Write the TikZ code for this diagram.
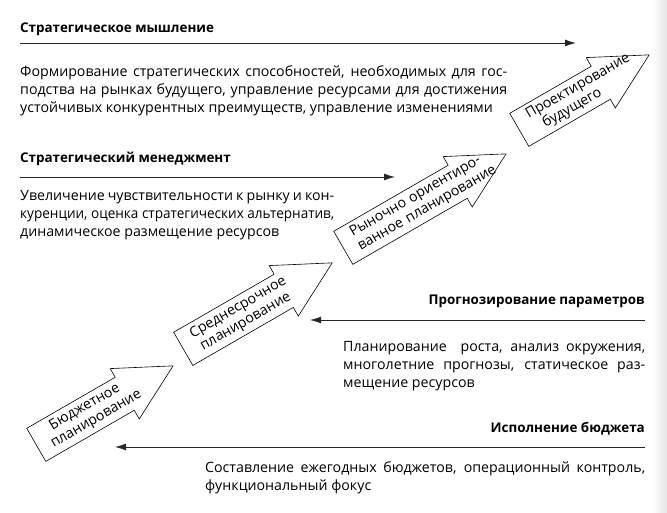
\documentclass[tikz,border=0pt]{standalone}
\usepackage{fontspec}
\usepackage{graphicx}
\setmainfont{Open Sans}
\usetikzlibrary{shapes, arrows.meta}
\usetikzlibrary{positioning}

\begin{document}
\begin{tikzpicture}[
        x=1pt, y=-1pt,
        every node/.style={font=\fontsize{14.2}{18}\selectfont},
        head/.style={font=\bfseries\fontsize{13.4}{18}\selectfont, inner sep=0},
        para/.style={align=left, inner sep=0, anchor=north west},
        stage/.style={single arrow, draw, line width=0.6pt, rotate=30, align=center, anchor=tail,
            single arrow head extend=10pt, single arrow tip angle=55,
            inner xsep=3pt, inner ysep=4pt, font=\fontsize{14.2}{16}\selectfont},
        arrow/.style={-{Latex[length=11pt,width=7pt]}, line width=0.8pt, black!85}
    ]
    \useasboundingbox (0,0) rectangle (667,513);
    \shade[left color=white, right color=black!10] (652,0) rectangle (667,513);

    % Stages
    \node[stage, text width=94pt, minimum height=158pt] (budget) at (36,445)
        {\mbox{Бюджетное}\\\mbox{планирование}};
    \node[stage, text width=108pt, minimum height=172pt] (midterm) at (183,349)
        {\mbox{Среднесрочное}\\\mbox{планирование}};
    \node[stage, text width=124pt, minimum height=188pt] (market) at (343,248)
        {\mbox{Рыночно ориентиро-}\\\mbox{ванное планирование}};
    \node[stage, text width=86pt, minimum height=150pt] (future) at (519,130)
        {\mbox{Проектирование}\\\mbox{будущего}};

    % Strategic thinking
    \node[head, anchor=base west] (thinking) at (20,33) {Стратегическое мышление};
    \coordinate (thinking-from) at (20,43);
    \coordinate (thinking-to) at (576,43);
    \node[para] (thinking-text) at (20,65) {\makebox[487pt][s]{Формирование стратегических способностей, необходимых для гос-}\\
        \makebox[487pt][s]{подства на рынках будущего, управление ресурсами для достижения}\\
        устойчивых конкурентных преимуществ, управление изменениями};

    % Strategic management
    \node[head, anchor=base west] (management) at (20,163) {Стратегический менеджмент};
    \coordinate (management-from) at (20,177);
    \coordinate (management-to) at (395,177);
    \node[para] (management-text) at (20,190) {\makebox[314pt][s]{Увеличение чувствительности к рынку и кон-}\\
        \resizebox{314pt}{\height}{куренции, оценка стратегических альтернатив,}\\
        динамическое размещение ресурсов};

    % Forecasting
    \node[head, anchor=base east] (forecast) at (645,305) {Прогнозирование параметров};
    \coordinate (forecast-from) at (645,320);
    \coordinate (forecast-to) at (310,320);
    \node[para] (forecast-text) at (343,341) {\makebox[302pt][s]{Планирование\ \ роста, анализ окружения,}\\
        \makebox[302pt][s]{многолетние прогнозы, статическое раз-}\\
        мещение ресурсов};

    % Budget execution
    \node[head, anchor=base east] (execution) at (645,432) {Исполнение бюджета};
    \coordinate (execution-from) at (645,447);
    \coordinate (execution-to) at (115,447);
    \node[para] (execution-text) at (205,461) {\makebox[440pt][s]{Составление ежегодных бюджетов, операционный контроль,}\\
        функциональный фокус};

    % Arrows
    \draw[arrow] (thinking-from) -- (thinking-to);
    \draw[arrow] (management-from) -- (management-to);
    \draw[arrow] (forecast-from) -- (forecast-to);
    \draw[arrow] (execution-from) -- (execution-to);

\end{tikzpicture}
\end{document}
